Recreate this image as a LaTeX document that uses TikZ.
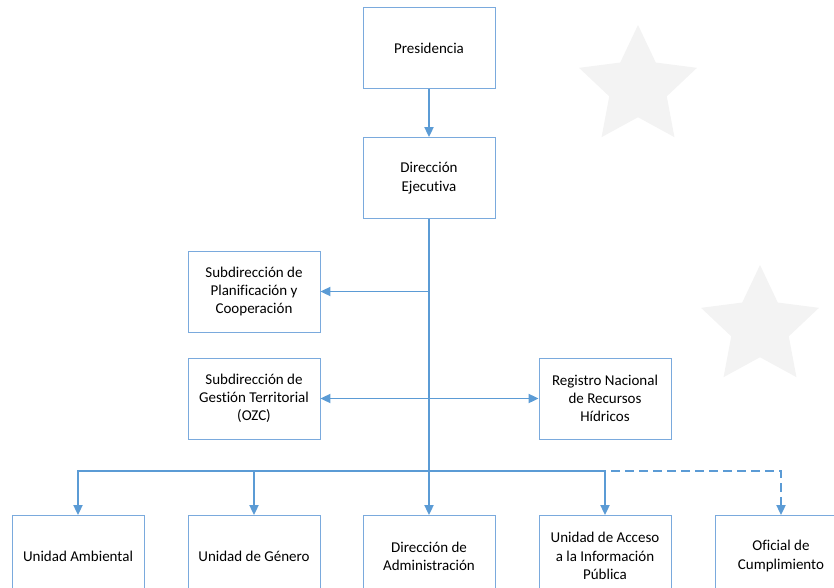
\documentclass[tikz,border=0pt]{standalone}
\usepackage{fontspec}
\setmainfont{Carlito}[Ligatures=NoCommon]
\usetikzlibrary{positioning,arrows.meta,shapes.geometric}
\definecolor{linea}{HTML}{5B9BD5}
\definecolor{borde}{HTML}{7AAADD}
\definecolor{estrella}{HTML}{F3F3F3}

\begin{document}
\begin{tikzpicture}[x=1pt,y=-1pt,node distance=2cm,on grid,
   unidad/.style={draw=borde,line width=0.8pt,fill=white,minimum width=132pt,minimum height=81pt,
      inner sep=0pt,align=center,font=\fontsize{15}{18.3}\selectfont},
   flecha/.style={draw=linea,line width=1.8pt,-{Triangle[length=10pt,width=9pt]}},
   estrellita/.style={star,star points=5,star point ratio=2.05,minimum size=124pt,inner sep=0pt,
      fill=estrella,draw=none}]
   \useasboundingbox (0,0) rectangle (834,588);
   % fondo
   \node[estrellita] (e_1) at (638,87) {};
   \node[estrellita] (e_2) at (760,327) {};

   \node[unidad] (pres) at (429,48) {Presidencia};
   \node[unidad] (dir)  [below =130pt of pres] {Dirección\\Ejecutiva};
   \node[unidad] (plan) [below left =113.5pt and 175pt of dir] {Subdirección de\\Planificación y\\Cooperación};
   \node[unidad] (gest) [below =107pt of plan] {Subdirección de\\Gestión Territorial\\(OZC)};
   \node[unidad] (reg)  [right =351pt of gest] {Registro Nacional\\de Recursos\\Hídricos};
   \node[unidad] (adm)  [below =378pt of dir] {Dirección de\\Administración};
   \node[unidad] (gen)  [left =175pt of adm] {Unidad de Género};
   \node[unidad] (amb)  [left =176pt of gen] {Unidad Ambiental};
   \node[unidad] (acc)  [right =176pt of adm] {Unidad de Acceso\\a la Información\\Pública};
   \node[unidad] (ofi)  [right =176pt of acc] {Oficial de\\Cumplimiento};
   \coordinate[above =44pt of adm.north] (bus);

   \draw[flecha] (pres) -- (dir);
   \draw[flecha] (dir) -- (adm);
   \draw[flecha] (dir.south |- plan) -- (plan);
   \draw[flecha,{Triangle[length=10pt,width=9pt]}-{Triangle[length=10pt,width=9pt]}] (gest) -- (reg);
   \draw[flecha,dash pattern=on 9pt off 5pt] (bus) -| (ofi);
   \draw[flecha] (bus) -| (amb);
   \draw[flecha] (bus) -| (gen);
   \draw[flecha] (bus) -| (acc);
\end{tikzpicture}
\end{document}
